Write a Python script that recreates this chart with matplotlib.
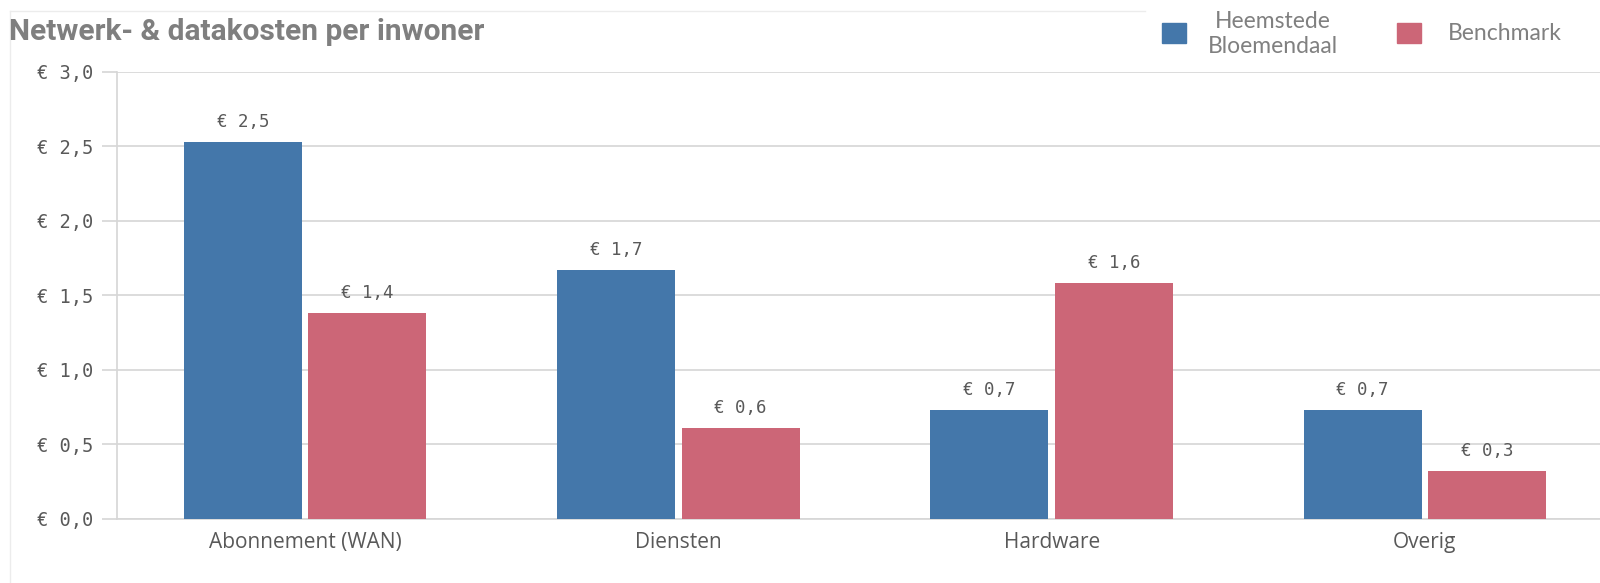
import matplotlib.pyplot as plt
from matplotlib.lines import Line2D
import numpy as np

# data
categories = ["Abonnement (WAN)", "Diensten", "Hardware", "Overig"]
heemstede = [2.53, 1.67, 0.73, 0.73]
benchmark = [1.38, 0.61, 1.58, 0.32]
yticks = [0.0, 0.5, 1.0, 1.5, 2.0, 2.5, 3.0]

BLUE = "#4477AA"
RED = "#CC6677"
GRID = "#d6d6d6"
TEXT = "#595959"


def eur(v):
    return "€ " + f"{v:.1f}".replace(".", ",")


fig = plt.figure(figsize=(16, 5.83), dpi=100)
ax = fig.add_axes([117 / 1600, 1 - 518.6 / 583, 1 - 117 / 1600, (518.6 - 72) / 583])

x = np.arange(len(categories))
w = 0.316
off = 0.167
b1 = ax.bar(x - off, heemstede, width=w, color=BLUE, zorder=3)
b2 = ax.bar(x + off, benchmark, width=w, color=RED, zorder=3)

for bars, vals in ((b1, heemstede), (b2, benchmark)):
    for rect, v in zip(bars, vals):
        ax.annotate(eur(v), (rect.get_x() + rect.get_width() / 2, v),
                    xytext=(0, 8), textcoords="offset points",
                    ha="center", va="bottom", fontsize=12.5,
                    family="DejaVu Sans Mono", color=TEXT)

ax.set_xlim(-0.504, 3.469)
ax.set_ylim(0, 3.0)
ax.set_yticks(yticks)
ax.set_yticklabels([eur(v) for v in yticks], family="DejaVu Sans Mono",
                   fontsize=13.5, color=TEXT)
ax.set_xticks(x)
ax.set_xticklabels(categories, family="Open Sans", fontsize=15, color=TEXT)
ax.tick_params(axis="x", length=0, pad=10)
ax.tick_params(axis="y", length=11, width=1.2, color=GRID, pad=6)
ax.grid(axis="y", color=GRID, linewidth=1.2, zorder=0)
for s in ("top", "right"):
    ax.spines[s].set_visible(False)
for s in ("left", "bottom"):
    ax.spines[s].set_color(GRID)
    ax.spines[s].set_linewidth(1.2)

# title
fig.text(9 / 1600, 1 - 31.6 / 583, "Netwerk- & datakosten per inwoner",
         family="Roboto", fontweight="bold", fontsize=21.5, color="#7f7f7f",
         ha="left", va="center")

# legend drawn by hand to match the layout
leg = [(BLUE, "Heemstede\nBloemendaal", 1162, 1273), (RED, "Benchmark", 1397, 1505)]
for col, lab, sx, tx in leg:
    fig.patches.append(plt.Rectangle((sx / 1600, 1 - 43 / 583), 24 / 1600, 20 / 583,
                                     transform=fig.transFigure, color=col))
    fig.text(tx / 1600, 1 - 34 / 583, lab, family="Lato", fontsize=16.5,
             color="#808080", ha="center", va="center", linespacing=1.25)

# faint object border
fig.add_artist(Line2D([10 / 1600, 1145 / 1600], [1 - 11 / 583, 1 - 11 / 583],
                      transform=fig.transFigure, color="#ececec", lw=1))
fig.add_artist(Line2D([10 / 1600, 10 / 1600], [0, 1 - 11 / 583],
                      transform=fig.transFigure, color="#ececec", lw=1))

fig.savefig("out.png", dpi=100)
